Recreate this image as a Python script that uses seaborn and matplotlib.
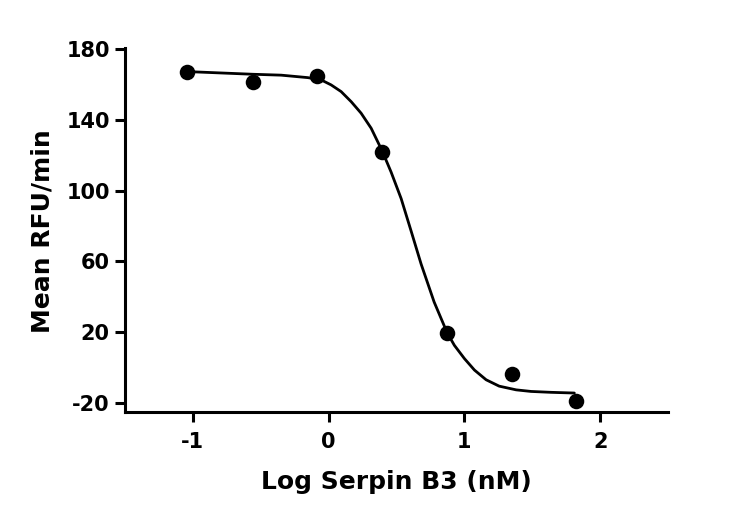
import matplotlib
matplotlib.use("Agg")
import matplotlib.pyplot as plt
import seaborn as sns
import pandas as pd

# Measured points (log concentration, mean RFU/min)
log_conc = [-1.04, -0.56, -0.085, 0.394, 0.873, 1.35, 1.82]
mean_rfu = [167.3, 161.7, 165.1, 121.7, 19.6, -3.8, -19.0]

# Fitted curve
fit_x = [-1.035, -0.556, -0.35, -0.153, -0.055, 0.018, 0.092, 0.166, 0.239,
         0.313, 0.394, 0.460, 0.534, 0.608, 0.681, 0.777, 0.873, 0.926, 1.0,
         1.074, 1.160, 1.256, 1.381, 1.491, 1.638, 1.810]
fit_y = [167.3, 165.8, 165.3, 163.9, 162.6, 159.8, 156.0, 150.3, 143.8,
         135.3, 122.5, 110.5, 95.5, 77.0, 58.5, 37.0, 19.6, 12.5, 5.0,
         -1.5, -7.0, -10.6, -12.7, -13.6, -14.1, -14.5]

x_ticks = [-1, 0, 1, 2]
y_ticks = [-20, 20, 60, 100, 140, 180]
x_label = "Log Serpin B3 (nM)"
y_label = "Mean RFU/min"

sns.set_style("ticks")
plt.rcParams["font.family"] = ["DejaVu Sans"]
plt.rcParams["font.weight"] = "bold"

fig = plt.figure(figsize=(7.5, 5.22), dpi=100)
ax = fig.add_axes([0.1667, 0.2098, 0.724, 0.6977])

pts = pd.DataFrame({"x": log_conc, "y": mean_rfu})
curve = pd.DataFrame({"x": fit_x, "y": fit_y})

sns.lineplot(data=curve, x="x", y="y", ax=ax, color="black", linewidth=2.0,
             sort=False, estimator=None, zorder=2,
             solid_joinstyle="round", solid_capstyle="round")
sns.scatterplot(data=pts, x="x", y="y", ax=ax, color="black", s=125,
                edgecolor="black", linewidth=0, zorder=3)

ax.set_xlim(-1.5, 2.5)
ax.set_ylim(-25.5, 180.5)
ax.set_xticks(x_ticks)
ax.set_yticks(y_ticks)
ax.set_xticklabels([str(t) for t in x_ticks])
ax.set_yticklabels([str(t) for t in y_ticks])

for side in ["top", "right"]:
    ax.spines[side].set_visible(False)
for side in ["left", "bottom"]:
    ax.spines[side].set_linewidth(2.2)
    ax.spines[side].set_color("black")

ax.tick_params(axis="both", which="major", direction="out", length=7,
               width=2.2, color="black", labelsize=15, labelcolor="black")
ax.tick_params(axis="x", pad=7)
ax.tick_params(axis="y", pad=4)
for lab in ax.get_xticklabels() + ax.get_yticklabels():
    lab.set_fontweight("bold")

ax.set_xlabel(x_label, fontsize=18, fontweight="bold", color="black")
ax.set_ylabel(y_label, fontsize=18, fontweight="bold", color="black")
ax.xaxis.label.set_va("center")
ax.yaxis.label.set_va("center")
ax.xaxis.set_label_coords(0.5, -0.19)
ax.yaxis.set_label_coords(-0.152, 0.498)

fig.savefig("out.png", dpi=100, facecolor="white")
